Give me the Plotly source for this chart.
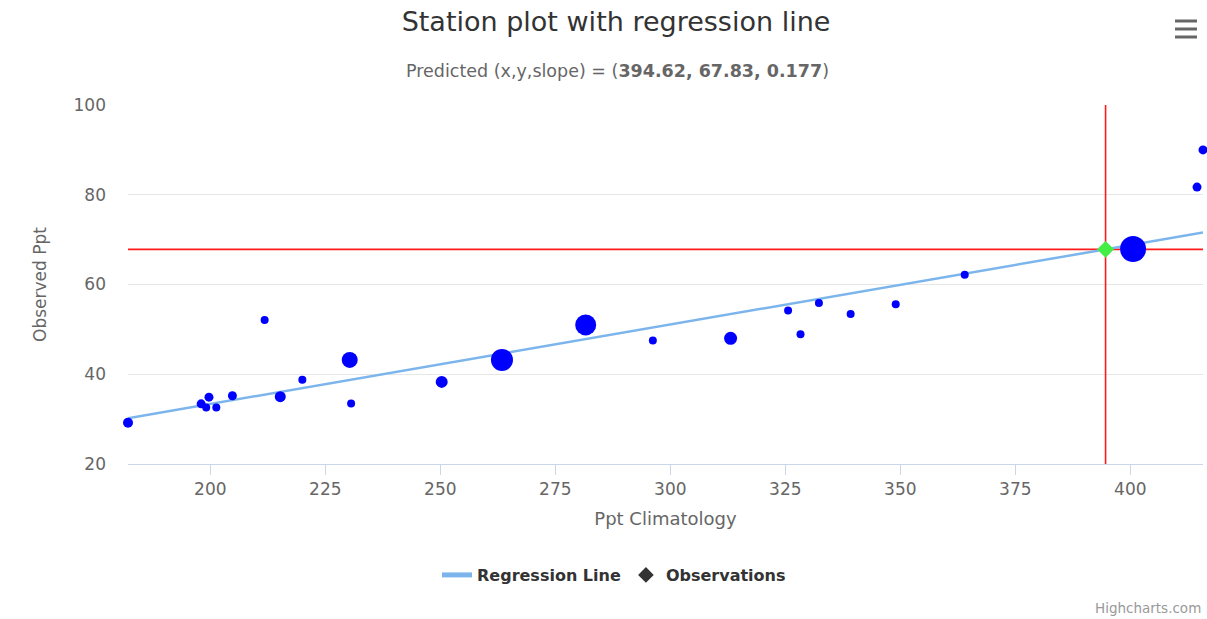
import plotly.graph_objects as go

# Station observations: climatological precipitation vs observed precipitation
ppt_climatology = [182.1, 198.0, 199.1, 199.7, 201.3, 204.8, 211.8, 215.2, 220.0,
                   230.3, 230.6, 250.3, 263.4, 281.6, 296.2, 313.1, 325.6, 328.3,
                   332.3, 339.2, 349.0, 364.0, 400.6, 414.5, 415.8]
observed_ppt = [29.2, 33.4, 32.6, 34.9, 32.6, 35.2, 52.1, 35.0, 38.8,
                43.2, 33.5, 38.3, 43.2, 51.0, 47.5, 48.0, 54.2, 48.9,
                55.9, 53.4, 55.6, 62.2, 67.9, 81.7, 90.0]
# marker radius per station (px)
obs_marker_radius = [5, 4.5, 4, 4.5, 4, 4.5, 4, 5.5, 4,
                     8, 4, 6, 11, 10.5, 4, 6.5, 4, 4,
                     4, 4, 4, 4, 13, 4.5, 4.5]

# Prediction stated in the subtitle
pred_x = 394.62
pred_y = 67.83
slope = 0.177

x_min, x_max = min(ppt_climatology), max(ppt_climatology)
reg_x = [x_min, x_max]
reg_y = [pred_y + slope * (v - pred_x) for v in reg_x]

FONT = "DejaVu Sans"
W, H = 1207, 619
L, R, T, B = 128, 4, 105, 155
PW, PH = W - L - R, H - T - B


def px_x(p):
    return (p - L) / PW


def px_y(p):
    return (H - B - p) / PH


fig = go.Figure()

# crosshair through the predicted point
fig.add_trace(go.Scatter(x=[x_min, x_max], y=[pred_y, pred_y], mode="lines",
                         line=dict(color="#ff1a1a", width=1.6),
                         showlegend=False, hoverinfo="skip"))
fig.add_trace(go.Scatter(x=[pred_x, pred_x], y=[20, 100], mode="lines",
                         line=dict(color="#ff1a1a", width=1.6),
                         showlegend=False, hoverinfo="skip"))

fig.add_trace(go.Scatter(x=reg_x, y=reg_y, mode="lines", name="Regression Line",
                         line=dict(color="#7cb5ec", width=2.5)))

fig.add_trace(go.Scatter(x=ppt_climatology, y=observed_ppt, mode="markers",
                         name="Observations", showlegend=False,
                         marker=dict(color="#0000ff", opacity=1,
                                     size=[2 * r for r in obs_marker_radius],
                                     line=dict(width=0)),
                         cliponaxis=False))
# legend entry for observations
fig.add_trace(go.Scatter(x=[None], y=[None], mode="markers", name="Observations",
                         marker=dict(symbol="diamond", color="#333333", size=9)))

fig.add_trace(go.Scatter(x=[pred_x], y=[pred_y], mode="markers", showlegend=False,
                         marker=dict(symbol="diamond", color="#44ee44", size=13,
                                     opacity=1, line=dict(width=0))))

fig.update_layout(
    width=W, height=H, autosize=False,
    margin=dict(l=L, r=R, t=T, b=B, autoexpand=False),
    paper_bgcolor="white", plot_bgcolor="white",
    font=dict(family=FONT, color="#666666"),
    title=dict(text="Station plot with regression line", xref="container", yref="container",
               x=616 / W, y=1 - 22 / H, xanchor="center", yanchor="middle",
               font=dict(family=FONT, size=27, color="#333333")),
    xaxis=dict(range=[x_min, x_max], tickvals=list(range(200, 401, 25)),
               showgrid=False, zeroline=False, showline=True, linecolor="#ccd6eb",
               linewidth=1, ticks="outside", ticklen=10, tickcolor="#ccd6eb",
               tickfont=dict(size=17, color="#666666"),
               title=dict(text="Ppt Climatology", font=dict(size=18, color="#666666"),
                          standoff=13)),
    yaxis=dict(range=[20, 100], dtick=20, showgrid=True, gridcolor="#e6e6e6",
               zeroline=False, showline=False, ticks="",
               ticklabelstandoff=21,
               tickfont=dict(size=17, color="#666666"),
               title=dict(text="Observed Ppt", font=dict(size=17, color="#666666"),
                          standoff=22)),
    legend=dict(orientation="h", xref="paper", yref="paper", x=px_x(614), xanchor="center",
                y=px_y(575), yanchor="middle",
                font=dict(size=16, color="#333333", family=FONT, weight="bold"),
                itemsizing="constant", bgcolor="rgba(0,0,0,0)"),
    showlegend=True,
)

# subtitle
fig.add_annotation(text="Predicted (x,y,slope) = (<b>394.62, 67.83, 0.177</b>)",
                   xref="paper", yref="paper", x=px_x(617), y=px_y(71),
                   xanchor="center", yanchor="middle", showarrow=False,
                   font=dict(family=FONT, size=17.5, color="#666666"))

# credits
fig.add_annotation(text="Highcharts.com", xref="paper", yref="paper",
                   x=px_x(1203), y=px_y(608), xanchor="right", yanchor="middle",
                   showarrow=False, font=dict(family=FONT, size=13.5, color="#999999"))

# export menu icon
for yy in (21, 29, 37):
    fig.add_shape(type="line", xref="paper", yref="paper",
                  x0=px_x(1175), x1=px_x(1197), y0=px_y(yy), y1=px_y(yy),
                  line=dict(color="#666666", width=3))

fig.write_html("out.html")
